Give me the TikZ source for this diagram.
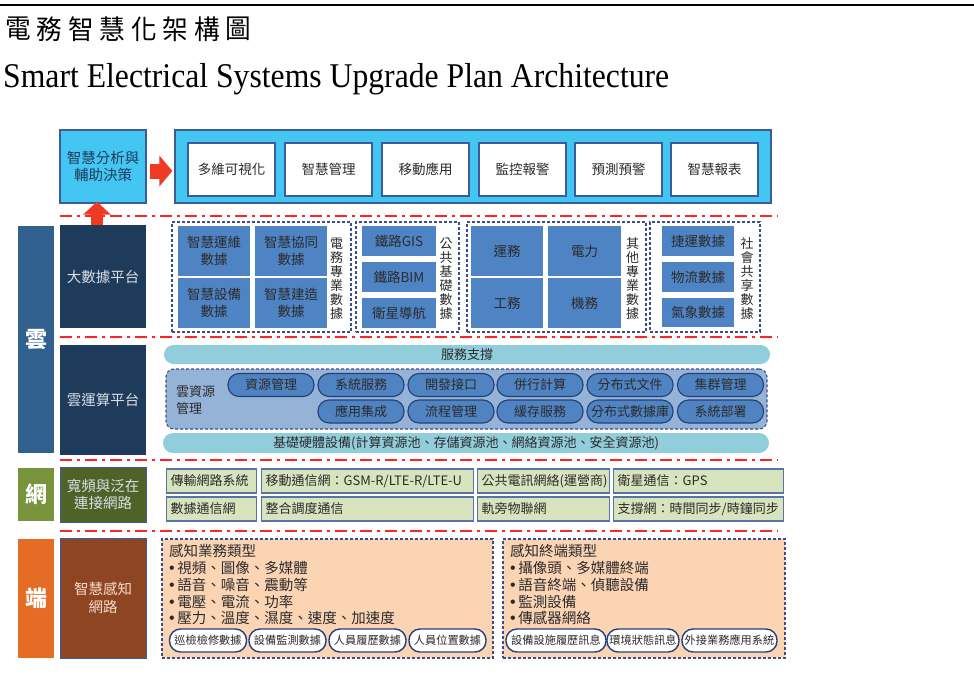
\documentclass[tikz,border=0pt]{standalone}
\usepackage{fontspec}
\setmainfont{Liberation Serif}
\newfontfamily\cjk{Noto Sans CJK TC}
\newfontfamily\latinsans{Liberation Sans}
\newcommand\bul{{\latinsans\fontsize{16}{16}\selectfont\char"2022}\hspace{2.5pt}}
\usetikzlibrary{arrows.meta}
\definecolor{cyanA}{HTML}{43C6F2}
\definecolor{bordA}{HTML}{3B5B99}
\definecolor{navy}{HTML}{1F3B5C}
\definecolor{yunC}{HTML}{31608F}
\definecolor{cellB}{HTML}{4F84C4}
\definecolor{grpB}{HTML}{3D4F8A}
\definecolor{tealC}{HTML}{92CDDC}
\definecolor{resB}{HTML}{95B3D7}
\definecolor{pillB}{HTML}{5083C2}
\definecolor{pillE}{HTML}{22407A}
\definecolor{netC}{HTML}{77933C}
\definecolor{netD}{HTML}{4F6228}
\definecolor{netF}{HTML}{D7E4BD}
\definecolor{netE}{HTML}{5873A8}
\definecolor{duanC}{HTML}{E46C24}
\definecolor{duanD}{HTML}{8E4522}
\definecolor{peach}{HTML}{FBD4B4}
\definecolor{redL}{HTML}{FF2424}
\definecolor{arrR}{HTML}{EF3B24}
\definecolor{txt}{HTML}{2B2B2B}
\definecolor{lighttxt}{HTML}{D9DEE6}
\tikzset{
  base/.style={rectangle, inner sep=0pt, align=center, text=txt,
    font=\cjk\fontsize{13.5}{16.5}\selectfont},
  wbox/.style={base, fill=white, draw=bordA, line width=1.2pt, minimum width=87, minimum height=53},
  cell/.style={base, fill=cellB},
  grp/.style={rectangle, draw=grpB, line width=1.1pt, dash pattern=on 3pt off 2pt},
  vlab/.style={base, font=\cjk\fontsize{13}{14}\selectfont},
  side/.style={base, text=white, font=\cjk\bfseries\fontsize{22}{24}\selectfont},
  dark/.style={base, text=lighttxt, font=\cjk\fontsize{14.5}{17.5}\selectfont, minimum width=86},
  bar/.style={base, fill=tealC, font=\cjk\fontsize{13}{15}\selectfont},
  cpill/.style={base, fill=pillB, draw=pillE, line width=1.1pt, rounded corners=11pt,
    minimum width=86, minimum height=23, font=\cjk\fontsize{13}{15}\selectfont},
  netcell/.style={base, fill=netF, draw=netE, line width=1.4pt, anchor=west, align=left,
    inner xsep=4pt, minimum height=24, font=\cjk\fontsize{13}{15}\selectfont},
  tbox/.style={rectangle, fill=peach, draw=grpB, line width=1.1pt, dash pattern=on 3pt off 2pt},
  tline/.style={base, anchor=west, font=\cjk\fontsize{14.5}{16}\selectfont},
  tpill/.style={base, fill=white, draw=pillE, line width=1.4pt, rounded corners=11pt,
    minimum height=23, font=\cjk\fontsize{11.2}{13}\selectfont},
  sep/.style={redL, line width=2pt, dash pattern=on 12pt off 5pt on 3pt off 5pt},
  bigarrow/.style={arrR, line cap=butt}
}
\begin{document}
\begin{tikzpicture}[x=1pt,y=-1pt]
\fill[white] (0,0) rectangle (974,677);
\useasboundingbox (0,0) rectangle (974,677);
% header
\draw[line width=2.5pt] (0,5) -- (974,5);
\foreach \c [count=\i from 0] in {電,務,智,慧,化,架,構,圖}
  \node[inner sep=0pt, font=\cjk\fontsize{27}{29}\selectfont] (t\i) at (18+31.5*\i,29) {\scalebox{0.95}[1]{\c}};
\node[inner sep=0pt, anchor=base west, font=\fontsize{34.7}{40}\selectfont] (etitle) at (3,88)
  {\scalebox{0.913}[1]{Smart Electrical Systems Upgrade Plan Architecture}};

% separators
\draw[sep] (60,216) -- (778,216);
\draw[sep] (60,337) -- (778,337);
\draw[sep] (60,460) -- (778,460);
\draw[sep] (60,531) -- (778,531);

% top row
\node[base, fill=cyanA, draw=bordA, line width=1.2pt, minimum width=86, minimum height=73,
  font=\cjk\fontsize{14.5}{17.5}\selectfont, text=navy] (ana) at (103,166.5) {智慧分析與\\輔助決策};
\node[base, fill=cyanA, draw=bordA, line width=1.2pt, minimum width=596, minimum height=73] (appbar) at (473,166.5) {};
\node[wbox] (a1) at (231.5,169.5) {多維可視化};
\node[wbox] (a2) at (328.5,169.5) {智慧管理};
\node[wbox] (a3) at (425.5,169.5) {移動應用};
\node[wbox] (a4) at (522.5,169.5) {監控報警};
\node[wbox] (a5) at (618.5,169.5) {預測預警};
\node[wbox] (a6) at (714.5,169.5) {智慧報表};

% side columns
\node[side, fill=yunC, minimum width=36, minimum height=227] (yun) at (36,339.5) {雲};
\node[dark, fill=navy, minimum height=103] (bigdata) at (103,276.5) {大數據平台};
\node[dark, fill=navy, minimum height=110] (cloudc) at (103,400) {雲運算平台};
\node[side, fill=netC, minimum width=36, minimum height=53] (wang) at (36,494.5) {網};
\node[dark, fill=netD, draw=bordA, line width=0.8pt, minimum height=55] (netbox) at (103,494.5) {寬頻與泛在\\連接網路};
\node[side, fill=duanC, minimum width=36, minimum height=119] (duan) at (36,598.5) {端};
\node[dark, fill=duanD, draw=bordA, line width=0.8pt, minimum height=120, text=duanC!25] (sense) at (103,598) {智慧感知\\網路};

% arrows
\draw[bigarrow, line width=15pt, -{Triangle[width=30pt,length=13pt]}, shorten <=3pt, shorten >=2pt]
  ([yshift=-4.5pt]ana.east) -- ([yshift=-4.5pt]appbar.west);
\draw[bigarrow, line width=12pt, -{Triangle[width=27pt,length=13pt]}, shorten >=-2pt]
  ([xshift=-6pt]bigdata.north) -- ([xshift=-6pt]ana.south);

% big data groups
\node[grp, minimum width=179, minimum height=110] (g1) at (261.5,277) {};
\node[grp, minimum width=103, minimum height=110] (g2) at (407.5,277) {};
\node[grp, minimum width=179, minimum height=110] (g3) at (556.5,277) {};
\node[grp, minimum width=110, minimum height=110] (g4) at (705,277) {};
\node[cell, minimum width=72, minimum height=50] (c11) at (214,251) {智慧運維\\數據};
\node[cell, minimum width=72, minimum height=50] (c12) at (291,251) {智慧協同\\數據};
\node[cell, minimum width=72, minimum height=50] (c13) at (214,303) {智慧設備\\數據};
\node[cell, minimum width=72, minimum height=50] (c14) at (291,303) {智慧建造\\數據};
\node[vlab] (v1) at (336.5,279) {電\\務\\專\\業\\數\\據};
\node[cell, minimum width=74, minimum height=30] (c21) at (399,241) {鐵路GIS};
\node[cell, minimum width=74, minimum height=30] (c22) at (399,277) {鐵路BIM};
\node[cell, minimum width=74, minimum height=30] (c23) at (399,313) {衛星導航};
\node[vlab] (v2) at (446,279) {公\\共\\基\\礎\\數\\據};
\node[cell, minimum width=72, minimum height=50] (c31) at (507,251) {運務};
\node[cell, minimum width=73, minimum height=50] (c32) at (584.5,251) {電力};
\node[cell, minimum width=72, minimum height=50] (c33) at (507,303) {工務};
\node[cell, minimum width=73, minimum height=50] (c34) at (584.5,303) {機務};
\node[vlab] (v3) at (632.5,279) {其\\他\\專\\業\\數\\據};
\node[cell, minimum width=72, minimum height=30] (c41) at (698,241) {捷運數據};
\node[cell, minimum width=72, minimum height=30] (c42) at (698,277) {物流數據};
\node[cell, minimum width=72, minimum height=29] (c43) at (698,312.5) {氣象數據};
\node[vlab] (v4) at (747,279) {社\\會\\共\\享\\數\\據};

% cloud computing
\node[bar, minimum width=606, minimum height=19, rounded corners=9.5pt] (svc) at (467,354.5) {服務支撐};
\node[base, fill=resB, draw=grpB, line width=1.1pt, dash pattern=on 3pt off 2pt, rounded corners=8pt,
  minimum width=601, minimum height=60] (res) at (466.5,399) {};
\node[base, anchor=west, align=left, font=\cjk\fontsize{13}{17}\selectfont] (reslab) at (176,400.5) {雲資源\\管理};
\node[cpill] (p1) at (271,385) {資源管理};
\node[cpill] (p2) at (361,385) {系統服務};
\node[cpill] (p3) at (451,385) {開發接口};
\node[cpill] (p4) at (540,385) {併行計算};
\node[cpill] (p5) at (630,385) {分布式文件};
\node[cpill] (p6) at (720.5,385) {集群管理};
\node[cpill] (q2) at (361,411.5) {應用集成};
\node[cpill] (q3) at (451,411.5) {流程管理};
\node[cpill] (q4) at (540,411.5) {緩存服務};
\node[cpill] (q5) at (630,411.5) {分布式數據庫};
\node[cpill] (q6) at (720.5,411.5) {系統部署};
\node[bar, minimum width=606, minimum height=20, rounded corners=10pt] (hw) at (466,443) {基礎硬體設備(計算資源池、存儲資源池、網絡資源池、安全資源池)};

% network
\node[netcell, text width=82pt] (n11) at (166,481) {傳輸網路系統};
\node[netcell, text width=204pt] (n12) at (261,481) {移動通信網：GSM-R/LTE-R/LTE-U};
\node[netcell, text width=124pt] (n13) at (477,481) {公共電訊網絡(運營商)};
\node[netcell, text width=162pt] (n14) at (613,481) {衛星通信：GPS};
\node[netcell, text width=82pt] (n21) at (166,509) {數據通信網};
\node[netcell, text width=204pt] (n22) at (261,509) {整合調度通信};
\node[netcell, text width=124pt] (n23) at (477,509) {軌旁物聯網};
\node[netcell, text width=162pt] (n24) at (613,509) {支撐網：時間同步/時鐘同步};

% terminal
\node[tbox, minimum width=331, minimum height=119] (t1box) at (327.5,598.5) {};
\node[tbox, minimum width=282, minimum height=119] (t2box) at (644,598.5) {};
\node[tline] (l10) at (169,551) {感知業務類型};
\node[tline] (l11) at (169,568) {\bul 視頻、圖像、多媒體};
\node[tline] (l12) at (169,585) {\bul 語音、噪音、震動等};
\node[tline] (l13) at (169,602) {\bul 電壓、電流、功率};
\node[tline] (l14) at (169,618) {\bul 壓力、溫度、濕度、速度、加速度};
\node[tpill, minimum width=77] (s1) at (208,640.5) {巡檢檢修數據};
\node[tpill, minimum width=77] (s2) at (287.5,640.5) {設備監測數據};
\node[tpill, minimum width=77] (s3) at (367.5,640.5) {人員履歷數據};
\node[tpill, minimum width=77] (s4) at (447.5,640.5) {人員位置數據};
\node[tline] (l20) at (510,551) {感知終端類型};
\node[tline] (l21) at (510,568) {\bul 攝像頭、多媒體終端};
\node[tline] (l22) at (510,585) {\bul 語音終端、偵聽設備};
\node[tline] (l23) at (510,602) {\bul 監測設備};
\node[tline] (l24) at (510,618) {\bul 傳感器網絡};
\node[tpill, minimum width=100] (u1) at (556,640.5) {設備設施履歷訊息};
\node[tpill, minimum width=72] (u2) at (643,640.5) {環境狀態訊息};
\node[tpill, minimum width=95] (u3) at (729.5,640.5) {外接業務應用系統};
\end{tikzpicture}
\end{document}
